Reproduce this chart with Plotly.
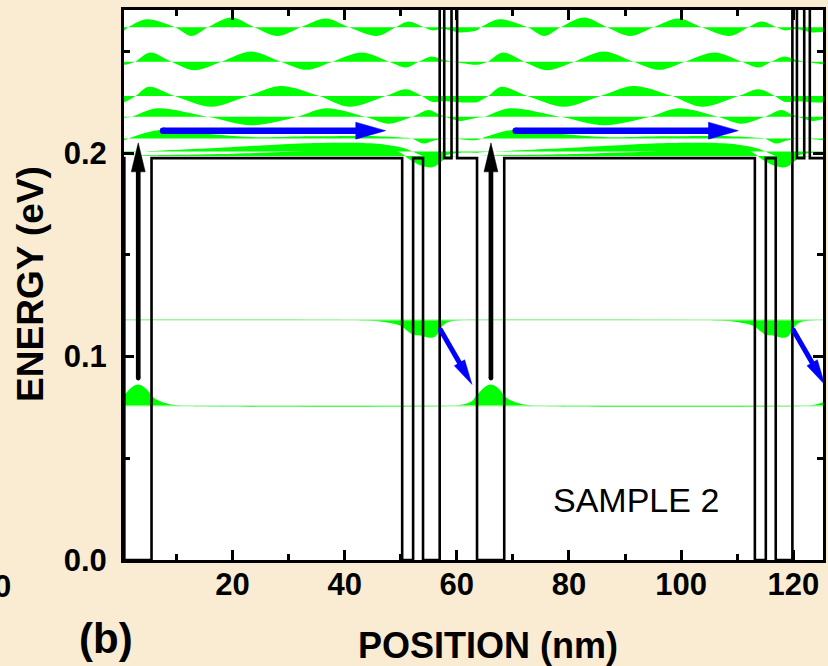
import math
import plotly.graph_objects as go

# ---------------- data ----------------
PERIOD = 62.9  # nm, period of the structure
# conduction-band profile of one period (layer starts, nm) and potentials (eV)
LAYER_START = [0.70, 5.55, 50.25, 52.20, 53.97, 56.94, 57.75, 59.05, 60.05]
LAYER_V = [0.0, 0.1975, 0.0, 0.1975, 0.0, 1.0, 0.1975, 1.0, 0.1975]

# continuum states above the barriers: baseline energies (eV)
C_E = [0.2618, 0.2449, 0.2280, 0.2178, 0.2072, 0.2007, 0.1985]
C1_X = [0.7, 1.4, 4.7, 9.7, 12.7, 15.6, 19.8, 23.9, 28.0, 32.2, 36.6, 40.8, 45.8, 49.1, 51.4, 54.1, 55.5, 57.5, 60.5, 62.3]
C1_A = [-0.0015, 0, 0.0039, 0, -0.0043, 0, 0.0048, 0, -0.0043, 0, 0.0043, 0, -0.0043, 0, 0.0028, 0, -0.0015, -0.0008, -0.0025, -0.0022]
C2_X = [0.7, 2.6, 5.3, 9.1, 13.2, 18.0, 23.3, 28.6, 33.2, 37.8, 43.1, 47.9, 50.9, 53.2, 55.5, 57.5, 60.5, 62.3]
C2_A = [-0.0015, 0, 0.0045, 0, -0.0042, 0, 0.0050, 0, -0.0040, 0, 0.0045, 0, -0.0028, 0, 0.0026, 0.0010, -0.0005, -0.0012]
C3_X = [0.7, 2.7, 5.0, 9.7, 16.2, 22.7, 28.6, 35.5, 40.8, 47.3, 50.9, 53.8, 55.5, 57.5, 60.5, 62.3]
C3_A = [-0.0030, 0, 0.0046, 0, -0.0053, 0, 0.0050, 0, -0.0053, 0, 0.0034, 0, -0.0028, -0.0025, -0.0030, -0.0032]
C4_X = [0.7, 2.0, 6.5, 15.6, 23.4, 31.5, 36.6, 43.7, 47.8, 52.0, 55.0, 57.0, 60.5, 62.3]
C4_A = [-0.0005, 0, 0.0042, 0, -0.0042, 0, 0.0042, 0, -0.0034, 0, 0.0034, 0.0010, -0.0020, -0.0012]
C5_X = [0.7, 1.5, 6.7, 14.0, 24.0, 34.0, 44.0, 50.0, 52.0, 54.0, 56.0, 58.0, 61.0]
C5_A = [-0.0008, 0, 0.0040, 0.0025, 0.0006, 0.0010, 0.0012, 0.0005, 0, -0.0025, -0.0010, 0, -0.0005]
C6_X = [0.7, 3.8, 15.0, 25.0, 33.0, 42.0, 47.0, 50.5, 53.0, 55.5, 57.5, 60.5]
C6_A = [-0.0005, 0, 0.0015, 0.0030, 0.0041, 0.0043, 0.0035, 0.0018, -0.0010, -0.0035, -0.0020, -0.0005]
C7_X = [0.7, 5.0, 20.0, 33.0, 40.0, 46.0, 49.5, 51.5, 53.5, 55.5, 56.7, 58.0, 60.5, 62.3]
C7_A = [0.0, 0.0004, 0.0012, 0.0025, 0.0040, 0.0040, 0.0022, -0.0015, -0.0045, -0.0056, -0.0040, -0.0010, 0.0, 0.0]

# bound states
LOW_E = 0.0757
LOW_X = [-3.9, -2.5, -1.2, -0.2, 0.7, 1.5, 2.3, 3.16, 4.0, 4.8, 5.55, 6.5, 7.8, 9.5, 11.5]
LOW_A = [0.0, 0.0004, 0.0012, 0.0025, 0.0054, 0.0079, 0.0097, 0.0105, 0.0097, 0.0079, 0.0052, 0.0030, 0.0016, 0.0006, 0.0]
UP_E = 0.1180
UP_X = [40.0, 44.0, 47.0, 49.0, 50.25, 51.2, 52.2, 53.1, 54.0, 55.3, 56.2, 56.9, 57.6, 58.5, 60.0, 61.5]
UP_A = [0.0, -0.0003, -0.0010, -0.0020, -0.0033, -0.0055, -0.0073, -0.0076, -0.0080, -0.0088, -0.0080, -0.0055, -0.0025, -0.0010, -0.0003, 0.0]

# arrows (tail x, tail y, tip x, tip y) for the first period
ARROW_BLACK = [3.18, 0.0894, 3.18, 0.2050]
ARROW_BLUE_H = [7.6, 0.2110, 47.3, 0.2110]
ARROW_BLUE_D = [57.1, 0.1130, 62.7, 0.0863]

X_TICKS = [20, 40, 60, 80, 100, 120]
Y_TICKS = [0.0, 0.1, 0.2]

# ---------------- layout constants ----------------
W, H = 828, 666
ML, MR, MT, MB = 124, 2, 10, 106
X_RANGE = [0.64, 125.3]
Y_RANGE = [0.0, 0.2703]
PLOT_W = W - ML - MR
PLOT_H = H - MT - MB
PX_X = PLOT_W / (X_RANGE[1] - X_RANGE[0])
PX_Y = PLOT_H / (Y_RANGE[1] - Y_RANGE[0])

GREEN = '#00FF00'
BASE_GREEN = '#A6F5A6'
BLUE = '#0000FF'
FONT = 'Liberation Sans, Arial, sans-serif'

fig = go.Figure()


def add_state(energy, xs, amps, periods, base_width):
    X, Y = [], []
    for k in periods:
        for x, a in zip(xs, amps):
            X.append(x + k * PERIOD)
            Y.append(energy + a)
    fig.add_trace(go.Scatter(x=[-80, 200], y=[energy, energy], mode='lines',
                             line=dict(color=BASE_GREEN, width=base_width),
                             hoverinfo='skip', showlegend=False))
    fig.add_trace(go.Scatter(x=X, y=Y, mode='lines', fill='tonexty', fillcolor=GREEN,
                             line=dict(color=GREEN, width=0, shape='spline', smoothing=0.9),
                             hoverinfo='skip', showlegend=False))


CONT = [(C1_X, C1_A), (C2_X, C2_A), (C3_X, C3_A), (C4_X, C4_A),
        (C5_X, C5_A), (C6_X, C6_A), (C7_X, C7_A)]
for e, (xs, a) in zip(C_E, CONT):
    add_state(e, xs, a, [-1, 0, 1, 2], 0)
add_state(UP_E, UP_X, UP_A, [-1, 0, 1], 1.2)
add_state(LOW_E, LOW_X, LOW_A, [0, 1, 2], 1.2)

# potential profile
px, py = [], []
for k in [-1, 0, 1, 2]:
    for s, v in zip(LAYER_START, LAYER_V):
        px.append(s + k * PERIOD)
        py.append(v)
px.append(LAYER_START[0] + 3 * PERIOD)
py.append(LAYER_V[-1])
fig.add_trace(go.Scatter(x=px, y=py, mode='lines', line=dict(color='black', width=2.6, shape='hv'),
                         hoverinfo='skip', showlegend=False))


def add_arrow(a, color, shaft, head_len, head_w):
    x0, y0, x1, y1 = a
    dx = (x1 - x0) * PX_X
    dy = (y1 - y0) * PX_Y
    L = math.hypot(dx, dy)
    ux, uy = dx / L, dy / L
    bx, by = -ux * head_len, -uy * head_len
    nx, ny = -uy, ux
    pts = [(0, 0), (bx + nx * head_w / 2, by + ny * head_w / 2),
           (bx - nx * head_w / 2, by - ny * head_w / 2), (0, 0)]
    hx = [x1 + p[0] / PX_X for p in pts]
    hy = [y1 + p[1] / PX_Y for p in pts]
    sx = x1 + bx * 0.7 / PX_X
    sy = y1 + by * 0.7 / PX_Y
    fig.add_trace(go.Scatter(x=[x0, sx], y=[y0, sy], mode='lines',
                             line=dict(color=color, width=shaft),
                             hoverinfo='skip', showlegend=False))
    fig.add_trace(go.Scatter(x=[x0], y=[y0], mode='markers',
                             marker=dict(color=color, size=shaft, line=dict(width=0)),
                             hoverinfo='skip', showlegend=False))
    fig.add_trace(go.Scatter(x=hx, y=hy, mode='lines', fill='toself', fillcolor=color,
                             line=dict(color=color, width=0.5),
                             hoverinfo='skip', showlegend=False))


for k in [0, 1]:
    sh = k * PERIOD
    add_arrow([ARROW_BLUE_H[0] + sh, ARROW_BLUE_H[1], ARROW_BLUE_H[2] + sh, ARROW_BLUE_H[3]], BLUE, 6.5, 30, 17)
    add_arrow([ARROW_BLUE_D[0] + sh, ARROW_BLUE_D[1], ARROW_BLUE_D[2] + sh, ARROW_BLUE_D[3]], BLUE, 5, 25, 12)
    add_arrow([ARROW_BLACK[0] + sh, ARROW_BLACK[1], ARROW_BLACK[2] + sh, ARROW_BLACK[3]], 'black', 4.7, 29, 14)

axis_common = dict(showgrid=False, zeroline=False, showline=True, linecolor='black', linewidth=3,
                   mirror='ticks', ticks='inside', ticklen=10, tickwidth=2.5, tickcolor='black',
                   tickfont=dict(family=FONT, size=31, color='black', weight='bold'))

fig.update_xaxes(range=X_RANGE, tickvals=X_TICKS, ticklabelstandoff=-5,
                 minor=dict(dtick=10, tick0=0, ticks='inside', ticklen=6, tickwidth=2.5,
                            tickcolor='black', showgrid=False),
                 **axis_common)
fig.update_yaxes(range=Y_RANGE, tickvals=Y_TICKS, tickformat='.1f', ticklabelstandoff=8,
                 minor=dict(dtick=0.05, tick0=0, ticks='inside', ticklen=6, tickwidth=2.5,
                            tickcolor='black', showgrid=False),
                 **axis_common)

ann_font_b = dict(family=FONT, color='black', weight='bold')
annotations = [
    dict(text='ENERGY (eV)', xref='paper', yref='paper', x=(30 - ML) / PLOT_W, y=(MT + PLOT_H - 283.5) / PLOT_H,
         textangle=-90, showarrow=False, font=dict(size=37, **ann_font_b), xanchor='center', yanchor='middle'),
    dict(text='POSITION (nm)', xref='paper', yref='paper', x=(490 - ML) / PLOT_W, y=(MT + PLOT_H - 645) / PLOT_H,
         showarrow=False, font=dict(size=36, **ann_font_b), xanchor='center', yanchor='middle'),
    dict(text='(b)', xref='paper', yref='paper', x=(105.5 - ML) / PLOT_W, y=(MT + PLOT_H - 638) / PLOT_H,
         showarrow=False, font=dict(size=42, **ann_font_b), xanchor='center', yanchor='middle'),
    dict(text='0', xref='paper', yref='paper', x=(1.5 - ML) / PLOT_W, y=(MT + PLOT_H - 586.5) / PLOT_H,
         showarrow=False, font=dict(size=31, **ann_font_b), xanchor='center', yanchor='middle'),
    dict(text='SAMPLE 2', xref='x', yref='y', x=91.9, y=0.0295, showarrow=False,
         font=dict(family=FONT, size=34, color='black'), xanchor='center', yanchor='middle'),
]

fig.update_layout(width=W, height=H, autosize=False,
                  margin=dict(l=ML, r=MR, t=MT, b=MB, pad=0),
                  paper_bgcolor='#F9ECD3', plot_bgcolor='white',
                  showlegend=False, annotations=annotations)

fig.write_html("out.html", config={'displayModeBar': False},
               post_script="document.body.style.margin='0';document.body.style.padding='0';document.body.style.overflow='hidden';")
